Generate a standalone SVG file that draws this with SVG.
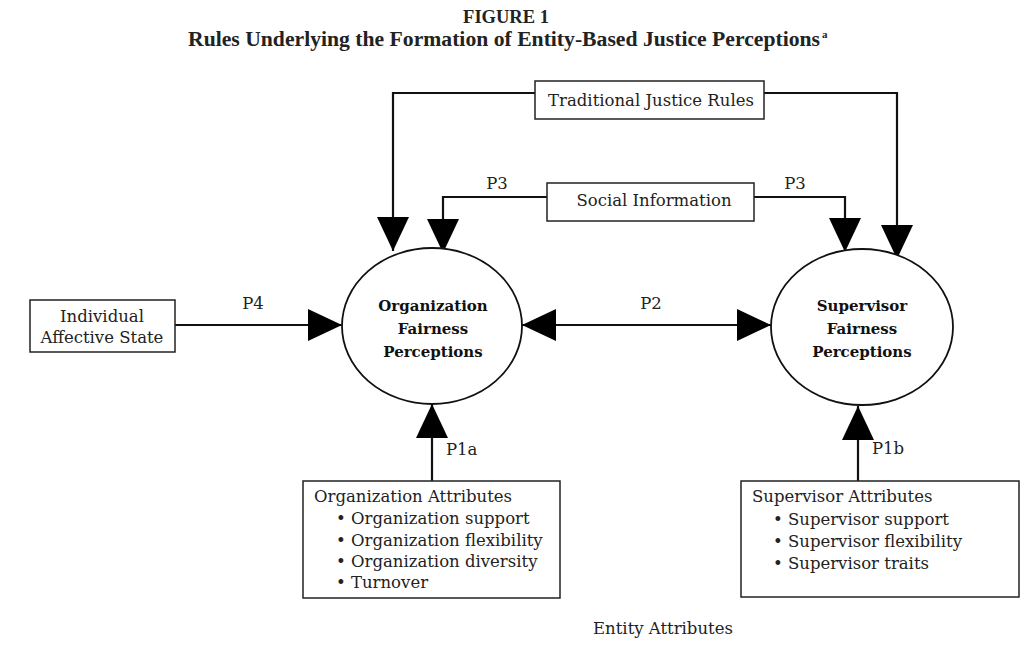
<svg xmlns="http://www.w3.org/2000/svg" width="1034" height="645" viewBox="0 0 1034 645">
<style>
.t{font-family:"DejaVu Serif","Liberation Serif",serif;font-size:16.5px;fill:#222}
.b{font-family:"DejaVu Serif","Liberation Serif",serif;font-size:15px;font-weight:bold;fill:#111;text-anchor:middle}
.h{font-family:"Liberation Serif",serif;font-size:18.5px;font-weight:bold;fill:#222}
.box{fill:#fff;stroke:#222;stroke-width:1.5}
.ell{fill:#fff;stroke:#111;stroke-width:1.8}
.ln{fill:none;stroke:#111;stroke-width:2.2}
.c{text-anchor:middle}
</style>
<defs>
<marker id="ah" markerUnits="userSpaceOnUse" markerWidth="36" markerHeight="32" refX="34" refY="16" orient="auto-start-reverse" viewBox="0 0 36 32">
<path d="M0,0 L34,16 L0,32 z" fill="#000"/>
</marker>
</defs>
<rect width="1034" height="645" fill="#fff"/>
<g id="title">
<text class="h c" x="506" y="23">FIGURE 1</text>
<text class="h" x="188" y="46" style="font-size:20px" textLength="632" lengthAdjust="spacingAndGlyphs">Rules Underlying the Formation of Entity-Based Justice Perceptions</text>
<text class="h" x="822" y="38" style="font-size:11px">a</text>
</g>
<g id="connectors">
<path class="ln" d="M535,93 H393 V251" marker-end="url(#ah)"/>
<path class="ln" d="M764,93 H897 V259" marker-end="url(#ah)"/>
<path class="ln" d="M547,197 H443 V253" marker-end="url(#ah)"/>
<path class="ln" d="M754,197 H845 V252" marker-end="url(#ah)"/>
<path class="ln" d="M175,325 H342" marker-end="url(#ah)"/>
<path class="ln" d="M522,325 H771" marker-start="url(#ah)" marker-end="url(#ah)"/>
<path class="ln" d="M432,481 V404" marker-end="url(#ah)"/>
<path class="ln" d="M858,481 V406" marker-end="url(#ah)"/>
<text class="t c" x="497" y="189">P3</text>
<text class="t c" x="795" y="189">P3</text>
<text class="t c" x="253" y="309">P4</text>
<text class="t c" x="651" y="309">P2</text>
<text class="t" x="446" y="455">P1a</text>
<text class="t" x="872" y="454">P1b</text>
</g>
<g id="traditional">
<rect class="box" x="535" y="81" width="229" height="38"/>
<text class="t c" x="651" y="106">Traditional Justice Rules</text>
</g>
<g id="social">
<rect class="box" x="547" y="183" width="207" height="38"/>
<text class="t c" x="654" y="206">Social Information</text>
</g>
<g id="affective">
<rect class="box" x="30" y="300" width="145" height="52"/>
<text class="t c" x="102" y="322">Individual</text>
<text class="t c" x="102" y="343">Affective State</text>
</g>
<g id="orgFairness">
<ellipse class="ell" cx="432" cy="326" rx="90" ry="78"/>
<text class="b" x="433" y="311">Organization</text>
<text class="b" x="433" y="334">Fairness</text>
<text class="b" x="433" y="357">Perceptions</text>
</g>
<g id="supFairness">
<ellipse class="ell" cx="862" cy="327" rx="91" ry="78"/>
<text class="b" x="862" y="311">Supervisor</text>
<text class="b" x="862" y="334">Fairness</text>
<text class="b" x="862" y="357">Perceptions</text>
</g>
<g id="orgAttributes">
<rect class="box" x="303" y="481" width="257" height="117"/>
<text class="t" x="314" y="502">Organization Attributes</text>
<text class="t" x="336" y="524">• Organization support</text>
<text class="t" x="336" y="546">• Organization flexibility</text>
<text class="t" x="336" y="567">• Organization diversity</text>
<text class="t" x="336" y="588">•  Turnover</text>
</g>
<g id="supAttributes">
<rect class="box" x="741" y="481" width="278" height="116"/>
<text class="t" x="752" y="502">Supervisor Attributes</text>
<text class="t" x="773" y="525">• Supervisor support</text>
<text class="t" x="773" y="547">• Supervisor flexibility</text>
<text class="t" x="773" y="569">• Supervisor traits</text>
</g>
<g id="entity">
<text class="t c" x="663" y="634">Entity Attributes</text>
</g>
</svg>
